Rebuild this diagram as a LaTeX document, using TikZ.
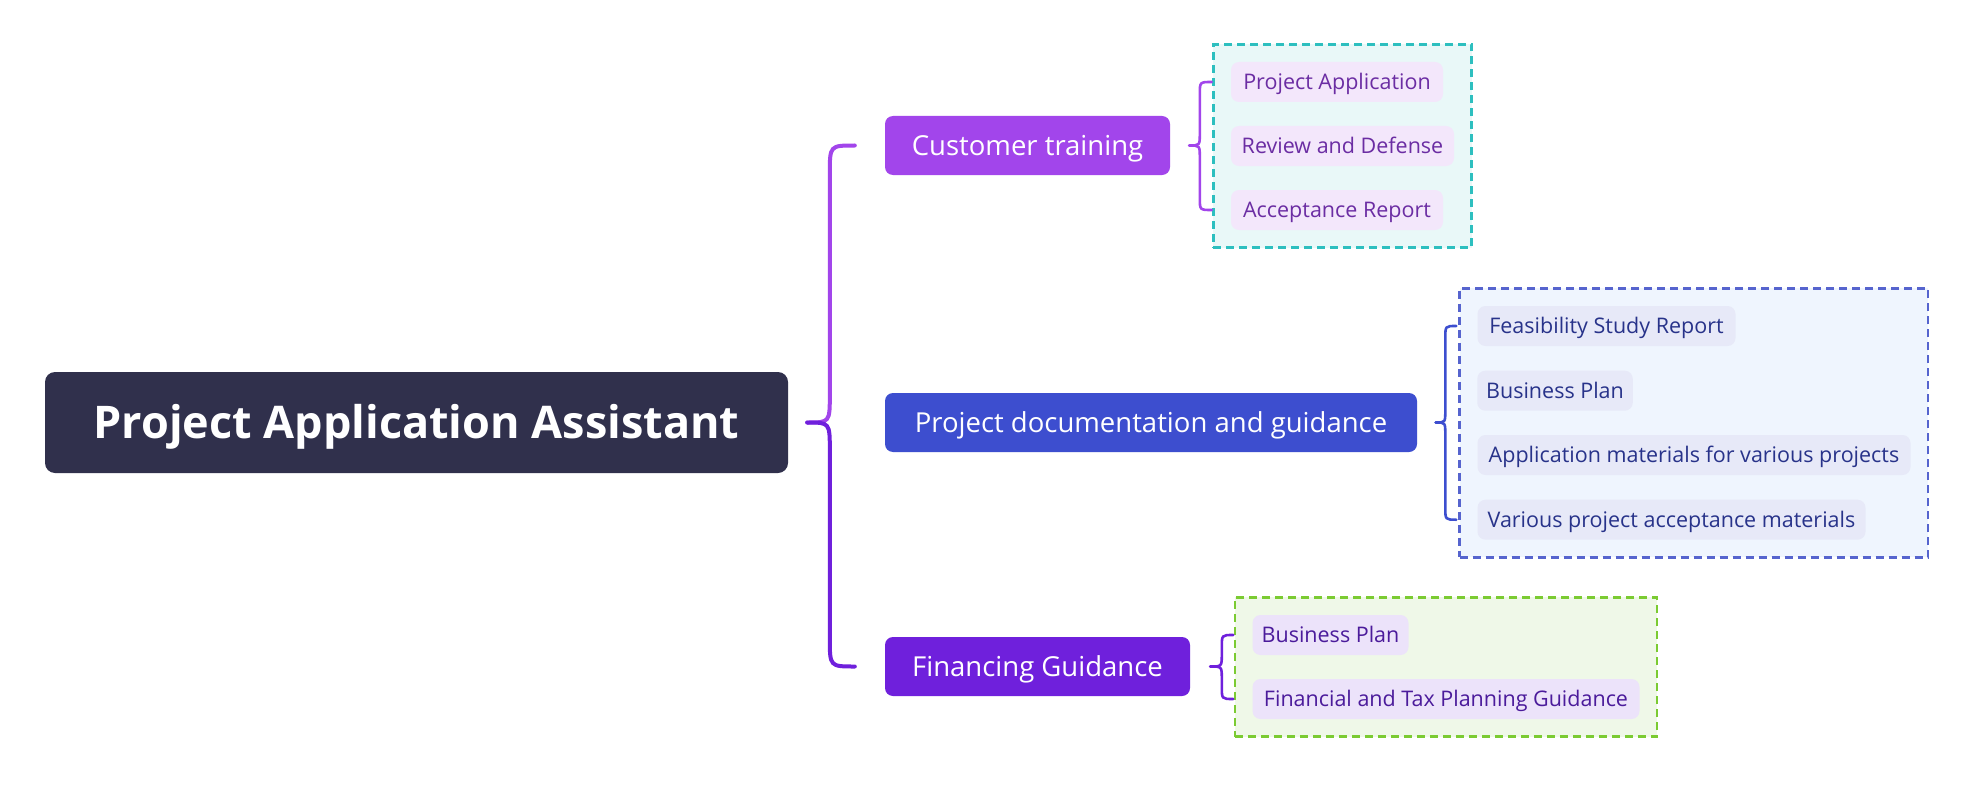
\documentclass[tikz,border=0pt]{standalone}
\usepackage{fontspec}
\setmainfont{Open Sans}
\usetikzlibrary{calc,fit,backgrounds}
\definecolor{rootc}{HTML}{30304C}
\definecolor{ctc}{HTML}{A245EB}
\definecolor{pdc}{HTML}{3D4ECF}
\definecolor{fgc}{HTML}{6F20DC}
\definecolor{tealb}{HTML}{2DBFBF}
\definecolor{tealf}{HTML}{E9F8F8}
\definecolor{blueb}{HTML}{5664CE}
\definecolor{bluef}{HTML}{EFF5FE}
\definecolor{greenb}{HTML}{7BCB32}
\definecolor{greenf}{HTML}{EFF8E8}
\definecolor{ctkid}{HTML}{F3E7FB}
\definecolor{cttxt}{HTML}{6B2DA3}
\definecolor{pdkid}{HTML}{E7E9F8}
\definecolor{pdtxt}{HTML}{28338A}
\definecolor{fgkid}{HTML}{ECE3FA}
\definecolor{fgtxt}{HTML}{4B1B9B}
\newcommand{\halfbrace}[6]{% style, tip, end, vertical offset, radius sign (+1 top / -1 bottom), radius
  \coordinate (hbA) at (#3);
  \coordinate (hbB) at ($(#3)+(#4,0)$);
  \coordinate (hbC) at (hbB |- #2);
  \draw[#1] (hbA) .. controls (hbB) .. ($(hbB)+(0,#5*#6)$) -- ($(hbC)+(0,-#5*#6)$) .. controls (hbC) .. (#2);
}
\begin{document}
\begin{tikzpicture}[x=1pt,y=-1pt,
  rootbox/.style={fill=rootc, rounded corners=10pt, text=white, font=\fontsize{45}{54}\selectfont\bfseries, minimum width=743pt, minimum height=101pt, inner sep=0pt, text height=32pt, text depth=0pt},
  lonebox/.style={rounded corners=8pt, text=white, font=\fontsize{27.5}{33}\selectfont, minimum height=59pt, inner sep=0pt, text height=19.6pt, text depth=0pt},
  ltwobox/.style={rounded corners=8pt, font=\fontsize{21.5}{26}\selectfont, minimum height=40pt, inner sep=0pt, text height=15.4pt, text depth=0pt},
  ctkidbox/.style={ltwobox, fill=ctkid, text=cttxt},
  pdkidbox/.style={ltwobox, fill=pdkid, text=pdtxt},
  fgkidbox/.style={ltwobox, fill=fgkid, text=fgtxt},
  frame/.style={dash pattern=on 8pt off 5pt, line width=2.5pt, inner sep=17.5pt},
  mainbrace/.style={line width=4pt, line cap=round},
  kidbrace/.style={line width=2.6pt, line cap=round}
]
\useasboundingbox (0,0) rectangle (1973,797);

% root and first level
\node[rootbox] (root) at (416.5,422.5) {Project Application Assistant};
\node[lonebox, fill=ctc, minimum width=285pt] (ct) at (1027.5,145.5) {Customer training};
\node[lonebox, fill=pdc, minimum width=532pt] (pd) at (1151,422.5) {Project documentation and guidance};
\node[lonebox, fill=fgc, minimum width=305pt] (fg) at (1037.5,666.5) {Financing Guidance};

% customer training children
\node[ctkidbox, minimum width=212pt] (pa) at (1337,82) {Project Application};
\node[ctkidbox, minimum width=223pt] (rd) at (1342.5,146) {Review and Defense};
\node[ctkidbox, minimum width=212pt] (ar) at (1337,210) {Acceptance Report};

% project documentation children
\node[pdkidbox, minimum width=258pt] (fsr) at (1606.5,326) {Feasibility Study Report};
\node[pdkidbox, minimum width=155.5pt] (bp) at (1555,390.7) {Business Plan};
\node[pdkidbox, minimum width=433pt] (am) at (1694,455) {Application materials for various projects};
\node[pdkidbox, minimum width=388pt] (vp) at (1671.5,519.7) {Various project acceptance materials};

% financing children
\node[fgkidbox, minimum width=156pt] (bpf) at (1330.5,635) {Business Plan};
\node[fgkidbox, minimum width=387pt] (ftp) at (1446,699) {Financial and Tax Planning Guidance};

% white page and dashed frames behind the nodes
\begin{scope}[on background layer]
  \fill[white] (0,0) rectangle (1973,797);
  \node[frame, draw=tealb, fill=tealf, fit=(pa)(rd)(ar)] (fct) {};
  \node[frame, draw=blueb, fill=bluef, fit=(fsr)(bp)(am)(vp)] (fpd) {};
  \node[frame, draw=greenb, fill=greenf, fit=(bpf)(ftp)] (ffg) {};
\end{scope}

% main brace
\coordinate (rtip) at ($(root.east)+(19,0)$);
\halfbrace{mainbrace, draw=ctc}{rtip}{$(ct.west)+(-30,0)$}{-25}{1}{28}
\halfbrace{mainbrace, draw=fgc}{rtip}{$(fg.west)+(-30,0)$}{-25}{-1}{28}

% customer training brace
\coordinate (cttip) at ($(ct.east)+(19,0)$);
\halfbrace{kidbrace, draw=ctc}{cttip}{$(pa.west)+(-19,0)$}{-12}{1}{12}
\halfbrace{kidbrace, draw=ctc}{cttip}{$(ar.west)+(-19,0)$}{-12}{-1}{12}

% project documentation brace
\coordinate (pdtip) at ($(pd.east)+(18.5,0)$);
\halfbrace{kidbrace, draw=pdc}{pdtip}{$(fsr.west)+(-21,0)$}{-11}{1}{12}
\halfbrace{kidbrace, draw=pdc}{pdtip}{$(vp.west)+(-21,0)$}{-11}{-1}{12}

% financing brace
\coordinate (fgtip) at ($(fg.east)+(20,0)$);
\halfbrace{kidbrace, draw=fgc}{fgtip}{$(bpf.west)+(-19,0)$}{-11.5}{1}{12}
\halfbrace{kidbrace, draw=fgc}{fgtip}{$(ftp.west)+(-19,0)$}{-11.5}{-1}{12}
\end{tikzpicture}
\end{document}
